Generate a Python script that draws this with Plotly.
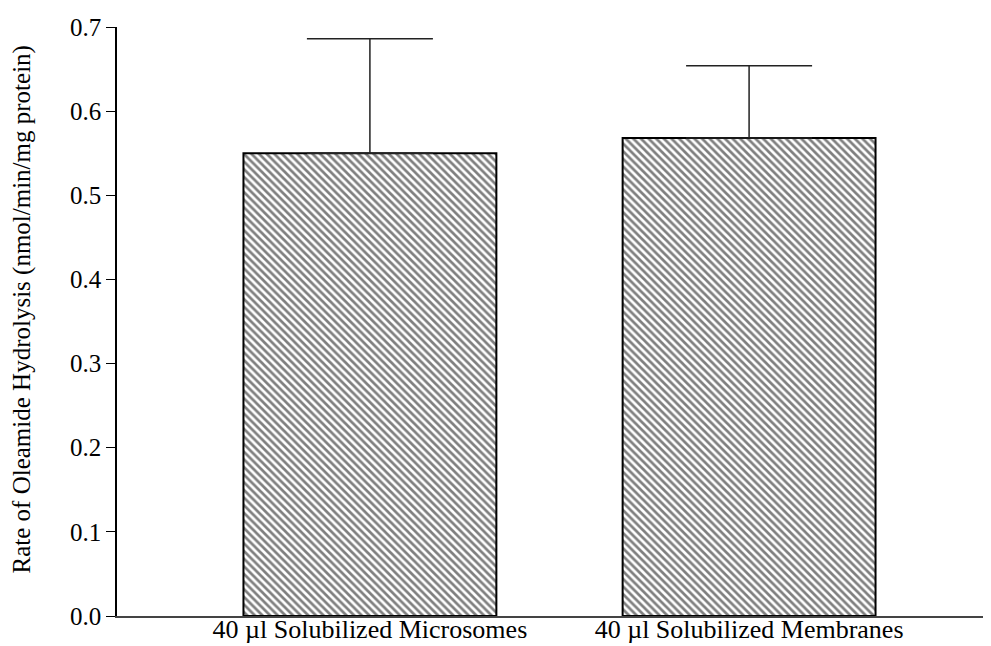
import plotly.graph_objects as go

categories = ["40 µl Solubilized Microsomes", "40 µl Solubilized Membranes"]
values = [0.550, 0.568]
err_plus = [0.136, 0.086]
err_minus = [0, 0]
y_ticks = [0.0, 0.1, 0.2, 0.3, 0.4, 0.5, 0.6, 0.7]
y_title = "Rate of Oleamide Hydrolysis (nmol/min/mg protein)"

font_family = "Liberation Serif, Times New Roman, serif"

fig = go.Figure()
fig.add_trace(go.Bar(
    x=categories,
    y=values,
    width=0.667,
    marker=dict(
        color="white",
        line=dict(color="black", width=2),
        pattern=dict(shape="\\", size=5.4, solidity=0.5, fgcolor="black", bgcolor="white"),
    ),
    error_y=dict(
        type="data",
        symmetric=False,
        array=err_plus,
        arrayminus=err_minus,
        width=63,
        thickness=1.5,
        color="#222222",
    ),
    showlegend=False,
))

# page body has an 8px default margin; compensate in the figure size/margins
fig.update_layout(
    width=983,
    height=638,
    margin=dict(l=109, r=0, t=19, b=30, autoexpand=False),
    plot_bgcolor="white",
    paper_bgcolor="white",
    font=dict(family=font_family, color="black"),
    bargap=0.333,
)
fig.update_xaxes(
    range=[-0.667, 1.638],
    showline=True,
    linecolor="#444444",
    linewidth=2,
    ticks="",
    showgrid=False,
    automargin=False,
    ticklabelstandoff=-11,
    tickfont=dict(size=26, family=font_family, color="black"),
)
fig.update_yaxes(
    range=[0, 0.7],
    tickvals=y_ticks,
    tickformat=".1f",
    showline=True,
    linecolor="black",
    linewidth=1.5,
    ticks="outside",
    ticklen=9,
    tickcolor="black",
    showgrid=False,
    zeroline=False,
    automargin=False,
    tickfont=dict(size=25, family=font_family, color="black"),
)
fig.add_annotation(
    text=y_title, textangle=-90,
    xref="paper", yref="paper", x=-0.1087, y=0.5204,
    xanchor="center", yanchor="middle", showarrow=False,
    font=dict(size=25, family=font_family, color="black"),
)

fig.write_html("out.html")
